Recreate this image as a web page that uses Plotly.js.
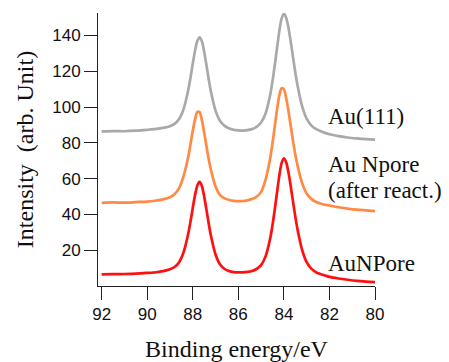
<!DOCTYPE html>
<html>
<head>
<meta charset="utf-8">
<script src="https://cdn.plot.ly/plotly-3.0.1.min.js"></script>
<style>
html,body{margin:0;padding:0;background:#fff;}
#chart{width:449px;height:362px;}
</style>
</head>
<body>
<div id="chart"></div>
<script>
// Binding energy (eV)
var energy = [92.0, 91.5, 91.0, 90.5, 90.0, 89.6, 89.3, 89.0, 88.8, 88.6, 88.4, 88.2, 88.1, 88.0, 87.9, 87.8, 87.7, 87.6, 87.5, 87.4, 87.3, 87.2, 87.0, 86.8, 86.6, 86.4, 86.2, 86.0, 85.8, 85.6, 85.4, 85.2, 85.0, 84.8, 84.6, 84.5, 84.4, 84.3, 84.2, 84.1, 84.0, 83.9, 83.8, 83.7, 83.6, 83.5, 83.4, 83.2, 83.0, 82.8, 82.6, 82.4, 82.2, 82.0, 81.6, 81.2, 80.8, 80.4, 80.0];

// Intensity (arb. unit)
var au111 = [86.4, 86.6, 86.5, 86.8, 87.3, 87.8, 88.4, 89.3, 90.6, 93.3, 99.0, 109.4, 116.4, 124.2, 131.5, 136.9, 139.0, 136.8, 131.0, 123.5, 115.6, 108.5, 98.0, 92.2, 89.5, 88.0, 87.3, 87.0, 86.9, 87.1, 87.7, 89.0, 91.4, 96.6, 106.9, 114.4, 123.4, 133.1, 142.5, 149.5, 152.2, 150.0, 144.4, 136.6, 128.0, 119.5, 112.1, 100.5, 93.5, 89.8, 87.8, 86.6, 85.6, 84.8, 83.8, 83.0, 82.5, 82.1, 81.8];

var auNporeAfter = [46.5, 46.7, 46.6, 46.9, 47.2, 47.8, 48.4, 49.6, 51.3, 54.7, 61.6, 72.1, 79.3, 86.7, 93.0, 97.3, 97.2, 92.7, 85.9, 78.3, 70.9, 64.8, 55.6, 50.8, 49.0, 48.1, 47.6, 47.4, 47.5, 47.9, 48.6, 49.9, 52.6, 59.6, 71.5, 79.9, 89.2, 98.7, 106.5, 110.5, 109.9, 105.1, 97.9, 89.6, 81.1, 73.5, 67.3, 57.5, 51.7, 48.7, 47.1, 46.1, 45.4, 45.0, 44.0, 43.3, 42.7, 42.3, 41.9];

var auNPore = [6.5, 6.6, 6.7, 6.9, 7.3, 7.7, 8.3, 9.3, 10.6, 13.3, 19.0, 29.2, 36.0, 43.6, 50.8, 56.2, 58.2, 55.9, 50.1, 42.7, 34.9, 27.9, 17.6, 12.0, 9.5, 8.3, 7.8, 7.6, 7.6, 7.9, 8.4, 9.5, 11.7, 16.7, 26.7, 34.0, 42.8, 52.4, 61.7, 68.7, 71.4, 69.2, 63.6, 55.8, 47.3, 38.9, 31.6, 20.2, 13.3, 9.7, 7.8, 6.7, 5.9, 5.1, 4.2, 3.5, 2.9, 2.5, 2.2];

var seriesNames = ['Au(111)', 'Au Npore (after react.)', 'AuNPore'];
var seriesColors = ['#a9a9a9', '#ff8a45', '#ff1010'];
var seriesData = [au111, auNporeAfter, auNPore];

// label lines placed beside the curves (text, y in data units)
var labelLines = ['Au(111)', 'Au Npore', '(after react.)', 'AuNPore'];
var labelLineY = [94.5, 68.0, 53.4, 12.7];

var xTicks = [92, 90, 88, 86, 84, 82, 80];
var yTicks = [20, 40, 60, 80, 100, 120, 140];

var serif = '"Liberation Serif", "Times New Roman", serif';
var sans = '"Liberation Sans", Arial, sans-serif';

var traces = seriesData.map(function (vals, i) {
  return {
    x: energy,
    y: vals,
    type: 'scatter',
    mode: 'lines',
    name: seriesNames[i],
    line: {color: seriesColors[i], width: 2.7, shape: 'spline', smoothing: 0.8},
    hoverinfo: 'skip'
  };
});

var annotations = labelLines.map(function (t, i) {
  return {
    text: t,
    x: 82.15, y: labelLineY[i],
    xref: 'x', yref: 'y',
    xanchor: 'left', yanchor: 'middle',
    align: 'left',
    showarrow: false,
    font: {family: serif, size: 23, color: '#111'}
  };
});

var layout = {
  width: 449, height: 362,
  margin: {l: 98, r: 74, t: 13, b: 76, pad: 0},
  paper_bgcolor: '#fff', plot_bgcolor: '#fff',
  showlegend: false,
  xaxis: {
    range: [92.16, 80],
    tickvals: xTicks,
    ticktext: xTicks.map(String),
    ticks: 'outside', ticklen: 13, tickwidth: 1, tickcolor: '#222',
    showline: true, linecolor: '#222', linewidth: 1,
    showgrid: false, zeroline: false,
    tickfont: {family: sans, size: 17, color: '#111'},
    title: {text: 'Binding energy/eV', font: {family: serif, size: 24, color: '#111'}, standoff: 17}
  },
  yaxis: {
    range: [0, 152.6],
    tickvals: yTicks,
    ticktext: yTicks.map(String),
    ticks: 'outside', ticklen: 13, tickwidth: 1, tickcolor: '#222',
    showline: true, linecolor: '#222', linewidth: 1,
    showgrid: false, zeroline: false,
    tickfont: {family: sans, size: 17, color: '#111'},
    title: {text: 'Intensity  (arb. Unit)', font: {family: serif, size: 24, color: '#111'}, standoff: 11}
  },
  annotations: annotations
};

Plotly.newPlot('chart', traces, layout, {displayModeBar: false, staticPlot: true});
</script>
</body>
</html>
